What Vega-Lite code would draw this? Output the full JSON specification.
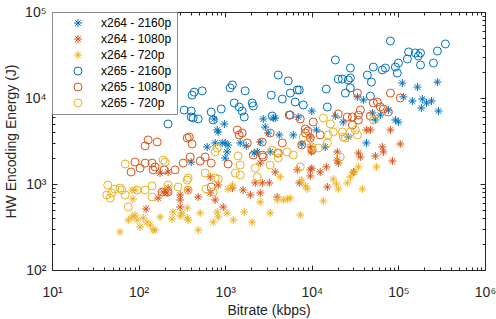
{
"$schema": "https://vega.github.io/schema/vega-lite/v6.json",
"width": 433,
"height": 258,
"autosize": {"type": "none"},
"padding": {"left": 52, "top": 12, "right": 11, "bottom": 49},
"background": "white",
"config": {
  "view": {"stroke": "#262626", "strokeWidth": 1},
  "font": "Liberation Sans",
  "axis": {"grid": false, "domain": false, "tickColor": "#262626", "tickWidth": 1, "labelColor": "#262626", "titleColor": "#262626", "labelFont": "Liberation Sans", "titleFont": "Liberation Sans", "titleFontWeight": "normal", "labelFlush": false, "labelOverlap": false},
  "legend": {"orient": "top-left", "offset": 0, "padding": 5, "strokeColor": "#8c8c8c", "fillColor": "white", "labelFontSize": 12, "labelColor": "#000000", "labelFont": "Liberation Sans", "symbolSize": 64, "symbolStrokeWidth": 1, "rowPadding": 4, "symbolOffset": 15, "labelOffset": 17, "cornerRadius": 0}
},
"datasets": {
"pts": [
{"series":"x264 - 2160p","bitrate":405,"energy":1800},
{"series":"x264 - 2160p","bitrate":619,"energy":2690},
{"series":"x264 - 2160p","bitrate":766,"energy":3000},
{"series":"x264 - 2160p","bitrate":830,"energy":4030},
{"series":"x264 - 2160p","bitrate":923,"energy":3000},
{"series":"x264 - 2160p","bitrate":1000,"energy":3000},
{"series":"x264 - 2160p","bitrate":1080,"energy":2840},
{"series":"x264 - 2160p","bitrate":1050,"energy":2360},
{"series":"x264 - 2160p","bitrate":1000,"energy":2000},
{"series":"x264 - 2160p","bitrate":1490,"energy":3000},
{"series":"x264 - 2160p","bitrate":1750,"energy":2770},
{"series":"x264 - 2160p","bitrate":2160,"energy":2290},
{"series":"x264 - 2160p","bitrate":2340,"energy":2360},
{"series":"x264 - 2160p","bitrate":2540,"energy":3080},
{"series":"x264 - 2160p","bitrate":2750,"energy":5700},
{"series":"x264 - 2160p","bitrate":2900,"energy":4600},
{"series":"x264 - 2160p","bitrate":3140,"energy":3920},
{"series":"x264 - 2160p","bitrate":3310,"energy":2360},
{"series":"x264 - 2160p","bitrate":3590,"energy":5850},
{"series":"x264 - 2160p","bitrate":3780,"energy":5850},
{"series":"x264 - 2160p","bitrate":4210,"energy":3720},
{"series":"x264 - 2160p","bitrate":6110,"energy":3720},
{"series":"x264 - 2160p","bitrate":6980,"energy":6010},
{"series":"x264 - 2160p","bitrate":7660,"energy":2920},
{"series":"x264 - 2160p","bitrate":10000,"energy":7060},
{"series":"x264 - 2160p","bitrate":11300,"energy":4250},
{"series":"x264 - 2160p","bitrate":14300,"energy":2690},
{"series":"x264 - 2160p","bitrate":18700,"energy":6180},
{"series":"x264 - 2160p","bitrate":23100,"energy":5260},
{"series":"x264 - 2160p","bitrate":26400,"energy":3520},
{"series":"x264 - 2160p","bitrate":33600,"energy":10300},
{"series":"x264 - 2160p","bitrate":39400,"energy":9480},
{"series":"x264 - 2160p","bitrate":42700,"energy":3000},
{"series":"x264 - 2160p","bitrate":50100,"energy":6690},
{"series":"x264 - 2160p","bitrate":54200,"energy":5550},
{"series":"x264 - 2160p","bitrate":61900,"energy":6340},
{"series":"x264 - 2160p","bitrate":76600,"energy":7240},
{"series":"x264 - 2160p","bitrate":92300,"energy":5550},
{"series":"x264 - 2160p","bitrate":100000,"energy":5260},
{"series":"x264 - 2160p","bitrate":111000,"energy":14900},
{"series":"x264 - 2160p","bitrate":114000,"energy":10300},
{"series":"x264 - 2160p","bitrate":145000,"energy":9230},
{"series":"x264 - 2160p","bitrate":166000,"energy":13400},
{"series":"x264 - 2160p","bitrate":184000,"energy":7650},
{"series":"x264 - 2160p","bitrate":189000,"energy":9730},
{"series":"x264 - 2160p","bitrate":211000,"energy":8750},
{"series":"x264 - 2160p","bitrate":241000,"energy":9230},
{"series":"x264 - 2160p","bitrate":282000,"energy":15300},
{"series":"x264 - 2160p","bitrate":290000,"energy":7060},
{"series":"x264 - 2160p","bitrate":746,"energy":5700},
{"series":"x264 - 2160p","bitrate":978,"energy":4990},
{"series":"x264 - 2160p","bitrate":809,"energy":4250},
{"series":"x264 - 1080p","bitrate":122,"energy":512},
{"series":"x264 - 1080p","bitrate":177,"energy":1340},
{"series":"x264 - 1080p","bitrate":192,"energy":807},
{"series":"x264 - 1080p","bitrate":168,"energy":687},
{"series":"x264 - 1080p","bitrate":219,"energy":898},
{"series":"x264 - 1080p","bitrate":219,"energy":1380},
{"series":"x264 - 1080p","bitrate":213,"energy":786},
{"series":"x264 - 1080p","bitrate":302,"energy":745},
{"series":"x264 - 1080p","bitrate":302,"energy":652},
{"series":"x264 - 1080p","bitrate":302,"energy":540},
{"series":"x264 - 1080p","bitrate":373,"energy":851},
{"series":"x264 - 1080p","bitrate":488,"energy":706},
{"series":"x264 - 1080p","bitrate":671,"energy":786},
{"series":"x264 - 1080p","bitrate":671,"energy":1210},
{"series":"x264 - 1080p","bitrate":766,"energy":652},
{"series":"x264 - 1080p","bitrate":830,"energy":973},
{"series":"x264 - 1080p","bitrate":948,"energy":540},
{"series":"x264 - 1080p","bitrate":1210,"energy":898},
{"series":"x264 - 1080p","bitrate":1610,"energy":851},
{"series":"x264 - 1080p","bitrate":1950,"energy":745},
{"series":"x264 - 1080p","bitrate":2220,"energy":1030},
{"series":"x264 - 1080p","bitrate":2540,"energy":786},
{"series":"x264 - 1080p","bitrate":2540,"energy":1750},
{"series":"x264 - 1080p","bitrate":2680,"energy":1030},
{"series":"x264 - 1080p","bitrate":3230,"energy":1030},
{"series":"x264 - 1080p","bitrate":3780,"energy":1380},
{"series":"x264 - 1080p","bitrate":3990,"energy":706},
{"series":"x264 - 1080p","bitrate":6800,"energy":1460},
{"series":"x264 - 1080p","bitrate":7170,"energy":1030},
{"series":"x264 - 1080p","bitrate":9610,"energy":1460},
{"series":"x264 - 1080p","bitrate":10000,"energy":1530},
{"series":"x264 - 1080p","bitrate":9610,"energy":1240},
{"series":"x264 - 1080p","bitrate":12500,"energy":1380},
{"series":"x264 - 1080p","bitrate":14700,"energy":1580},
{"series":"x264 - 1080p","bitrate":15100,"energy":923},
{"series":"x264 - 1080p","bitrate":19700,"energy":2360},
{"series":"x264 - 1080p","bitrate":19700,"energy":1900},
{"series":"x264 - 1080p","bitrate":20200,"energy":1750},
{"series":"x264 - 1080p","bitrate":9610,"energy":3520},
{"series":"x264 - 1080p","bitrate":9610,"energy":2690},
{"series":"x264 - 1080p","bitrate":9870,"energy":2360},
{"series":"x264 - 1080p","bitrate":30200,"energy":1380},
{"series":"x264 - 1080p","bitrate":34500,"energy":2290},
{"series":"x264 - 1080p","bitrate":36400,"energy":2060},
{"series":"x264 - 1080p","bitrate":42700,"energy":4250},
{"series":"x264 - 1080p","bitrate":47500,"energy":4250},
{"series":"x264 - 1080p","bitrate":54200,"energy":2120},
{"series":"x264 - 1080p","bitrate":65300,"energy":2690},
{"series":"x264 - 1080p","bitrate":67100,"energy":2360},
{"series":"x264 - 1080p","bitrate":80900,"energy":4250},
{"series":"x264 - 1080p","bitrate":85300,"energy":1850},
{"series":"x264 - 1080p","bitrate":105000,"energy":2920},
{"series":"x264 - 720p","bitrate":61,"energy":277},
{"series":"x264 - 720p","bitrate":76,"energy":381},
{"series":"x264 - 720p","bitrate":84,"energy":413},
{"series":"x264 - 720p","bitrate":91,"energy":436},
{"series":"x264 - 720p","bitrate":96,"energy":381},
{"series":"x264 - 720p","bitrate":104,"energy":316},
{"series":"x264 - 720p","bitrate":113,"energy":403},
{"series":"x264 - 720p","bitrate":125,"energy":361},
{"series":"x264 - 720p","bitrate":136,"energy":334},
{"series":"x264 - 720p","bitrate":147,"energy":292},
{"series":"x264 - 720p","bitrate":86,"energy":669},
{"series":"x264 - 720p","bitrate":84,"energy":851},
{"series":"x264 - 720p","bitrate":91,"energy":851},
{"series":"x264 - 720p","bitrate":177,"energy":413},
{"series":"x264 - 720p","bitrate":250,"energy":472},
{"series":"x264 - 720p","bitrate":244,"energy":392},
{"series":"x264 - 720p","bitrate":302,"energy":425},
{"series":"x264 - 720p","bitrate":316,"energy":460},
{"series":"x264 - 720p","bitrate":364,"energy":403},
{"series":"x264 - 720p","bitrate":373,"energy":381},
{"series":"x264 - 720p","bitrate":364,"energy":526},
{"series":"x264 - 720p","bitrate":488,"energy":292},
{"series":"x264 - 720p","bitrate":514,"energy":460},
{"series":"x264 - 720p","bitrate":726,"energy":361},
{"series":"x264 - 720p","bitrate":809,"energy":472},
{"series":"x264 - 720p","bitrate":830,"energy":413},
{"series":"x264 - 720p","bitrate":1050,"energy":460},
{"series":"x264 - 720p","bitrate":1240,"energy":381},
{"series":"x264 - 720p","bitrate":1210,"energy":973},
{"series":"x264 - 720p","bitrate":1080,"energy":875},
{"series":"x264 - 720p","bitrate":1660,"energy":472},
{"series":"x264 - 720p","bitrate":2050,"energy":361},
{"series":"x264 - 720p","bitrate":2540,"energy":618},
{"series":"x264 - 720p","bitrate":3310,"energy":460},
{"series":"x264 - 720p","bitrate":3990,"energy":652},
{"series":"x264 - 720p","bitrate":4690,"energy":652},
{"series":"x264 - 720p","bitrate":5210,"energy":669},
{"series":"x264 - 720p","bitrate":5640,"energy":687},
{"series":"x264 - 720p","bitrate":4320,"energy":1210},
{"series":"x264 - 720p","bitrate":7360,"energy":436},
{"series":"x264 - 720p","bitrate":7660,"energy":1110},
{"series":"x264 - 720p","bitrate":8410,"energy":948},
{"series":"x264 - 720p","bitrate":8870,"energy":875},
{"series":"x264 - 720p","bitrate":13600,"energy":634},
{"series":"x264 - 720p","bitrate":17700,"energy":1140},
{"series":"x264 - 720p","bitrate":19200,"energy":1000},
{"series":"x264 - 720p","bitrate":20200,"energy":875},
{"series":"x264 - 720p","bitrate":25700,"energy":1030},
{"series":"x264 - 720p","bitrate":27900,"energy":1210},
{"series":"x264 - 720p","bitrate":31000,"energy":1380},
{"series":"x264 - 720p","bitrate":34500,"energy":1580},
{"series":"x264 - 720p","bitrate":38400,"energy":875},
{"series":"x264 - 720p","bitrate":55700,"energy":1580},
{"series":"x264 - 720p","bitrate":155,"energy":292},
{"series":"x265 - 2160p","bitrate":219,"energy":4990},
{"series":"x265 - 2160p","bitrate":336,"energy":7240},
{"series":"x265 - 2160p","bitrate":405,"energy":7060},
{"series":"x265 - 2160p","bitrate":405,"energy":6010},
{"series":"x265 - 2160p","bitrate":427,"energy":5850},
{"series":"x265 - 2160p","bitrate":488,"energy":5700},
{"series":"x265 - 2160p","bitrate":415,"energy":10800},
{"series":"x265 - 2160p","bitrate":438,"energy":11700},
{"series":"x265 - 2160p","bitrate":542,"energy":12100},
{"series":"x265 - 2160p","bitrate":689,"energy":6870},
{"series":"x265 - 2160p","bitrate":726,"energy":5550},
{"series":"x265 - 2160p","bitrate":900,"energy":7450},
{"series":"x265 - 2160p","bitrate":1140,"energy":13100},
{"series":"x265 - 2160p","bitrate":1210,"energy":14200},
{"series":"x265 - 2160p","bitrate":1700,"energy":12100},
{"series":"x265 - 2160p","bitrate":1270,"energy":8750},
{"series":"x265 - 2160p","bitrate":1450,"energy":7860},
{"series":"x265 - 2160p","bitrate":1570,"energy":7060},
{"series":"x265 - 2160p","bitrate":1660,"energy":6010},
{"series":"x265 - 2160p","bitrate":2050,"energy":8750},
{"series":"x265 - 2160p","bitrate":2110,"energy":8070},
{"series":"x265 - 2160p","bitrate":3400,"energy":10800},
{"series":"x265 - 2160p","bitrate":3490,"energy":6180},
{"series":"x265 - 2160p","bitrate":4100,"energy":18500},
{"series":"x265 - 2160p","bitrate":4560,"energy":9730},
{"series":"x265 - 2160p","bitrate":5350,"energy":15800},
{"series":"x265 - 2160p","bitrate":5640,"energy":11400},
{"series":"x265 - 2160p","bitrate":6440,"energy":8980},
{"series":"x265 - 2160p","bitrate":6800,"energy":12400},
{"series":"x265 - 2160p","bitrate":7170,"energy":12400},
{"series":"x265 - 2160p","bitrate":7980,"energy":8300},
{"series":"x265 - 2160p","bitrate":5500,"energy":6340},
{"series":"x265 - 2160p","bitrate":14700,"energy":12700},
{"series":"x265 - 2160p","bitrate":15100,"energy":7860},
{"series":"x265 - 2160p","bitrate":18700,"energy":27700},
{"series":"x265 - 2160p","bitrate":20200,"energy":16600},
{"series":"x265 - 2160p","bitrate":22500,"energy":16600},
{"series":"x265 - 2160p","bitrate":26400,"energy":16200},
{"series":"x265 - 2160p","bitrate":27900,"energy":22300},
{"series":"x265 - 2160p","bitrate":27900,"energy":17100},
{"series":"x265 - 2160p","bitrate":27900,"energy":13100},
{"series":"x265 - 2160p","bitrate":24400,"energy":11400},
{"series":"x265 - 2160p","bitrate":43800,"energy":18500},
{"series":"x265 - 2160p","bitrate":48800,"energy":15300},
{"series":"x265 - 2160p","bitrate":51400,"energy":22900},
{"series":"x265 - 2160p","bitrate":65300,"energy":21200},
{"series":"x265 - 2160p","bitrate":70800,"energy":22300},
{"series":"x265 - 2160p","bitrate":80900,"energy":46000},
{"series":"x265 - 2160p","bitrate":92300,"energy":22900},
{"series":"x265 - 2160p","bitrate":100000,"energy":25500},
{"series":"x265 - 2160p","bitrate":97000,"energy":19500},
{"series":"x265 - 2160p","bitrate":127000,"energy":28400},
{"series":"x265 - 2160p","bitrate":131000,"energy":34300},
{"series":"x265 - 2160p","bitrate":157000,"energy":33400},
{"series":"x265 - 2160p","bitrate":180000,"energy":33400},
{"series":"x265 - 2160p","bitrate":170000,"energy":30800},
{"series":"x265 - 2160p","bitrate":180000,"energy":24200},
{"series":"x265 - 2160p","bitrate":254000,"energy":25500},
{"series":"x265 - 2160p","bitrate":282000,"energy":35200},
{"series":"x265 - 2160p","bitrate":349000,"energy":42500},
{"series":"x265 - 2160p","bitrate":47500,"energy":10500},
{"series":"x265 - 1080p","bitrate":119,"energy":2770},
{"series":"x265 - 1080p","bitrate":129,"energy":3250},
{"series":"x265 - 1080p","bitrate":164,"energy":3080},
{"series":"x265 - 1080p","bitrate":82,"energy":1380},
{"series":"x265 - 1080p","bitrate":91,"energy":1800},
{"series":"x265 - 1080p","bitrate":104,"energy":1530},
{"series":"x265 - 1080p","bitrate":119,"energy":1750},
{"series":"x265 - 1080p","bitrate":143,"energy":1750},
{"series":"x265 - 1080p","bitrate":147,"energy":1460},
{"series":"x265 - 1080p","bitrate":197,"energy":1460},
{"series":"x265 - 1080p","bitrate":155,"energy":1580},
{"series":"x265 - 1080p","bitrate":219,"energy":807},
{"series":"x265 - 1080p","bitrate":187,"energy":807},
{"series":"x265 - 1080p","bitrate":264,"energy":1460},
{"series":"x265 - 1080p","bitrate":327,"energy":1750},
{"series":"x265 - 1080p","bitrate":364,"energy":3430},
{"series":"x265 - 1080p","bitrate":384,"energy":3520},
{"series":"x265 - 1080p","bitrate":415,"energy":2920},
{"series":"x265 - 1080p","bitrate":394,"energy":2060},
{"series":"x265 - 1080p","bitrate":514,"energy":1850},
{"series":"x265 - 1080p","bitrate":587,"energy":2060},
{"series":"x265 - 1080p","bitrate":689,"energy":1750},
{"series":"x265 - 1080p","bitrate":689,"energy":923},
{"series":"x265 - 1080p","bitrate":1080,"energy":1710},
{"series":"x265 - 1080p","bitrate":1380,"energy":4250},
{"series":"x265 - 1080p","bitrate":1570,"energy":3920},
{"series":"x265 - 1080p","bitrate":1800,"energy":3000},
{"series":"x265 - 1080p","bitrate":1450,"energy":3720},
{"series":"x265 - 1080p","bitrate":2110,"energy":2170},
{"series":"x265 - 1080p","bitrate":2680,"energy":2170},
{"series":"x265 - 1080p","bitrate":2680,"energy":3080},
{"series":"x265 - 1080p","bitrate":2750,"energy":2060},
{"series":"x265 - 1080p","bitrate":3310,"energy":3920},
{"series":"x265 - 1080p","bitrate":4100,"energy":2290},
{"series":"x265 - 1080p","bitrate":4560,"energy":3000},
{"series":"x265 - 1080p","bitrate":5640,"energy":6340},
{"series":"x265 - 1080p","bitrate":7360,"energy":5700},
{"series":"x265 - 1080p","bitrate":8410,"energy":3920},
{"series":"x265 - 1080p","bitrate":9610,"energy":3430},
{"series":"x265 - 1080p","bitrate":10400,"energy":5260},
{"series":"x265 - 1080p","bitrate":8410,"energy":4360},
{"series":"x265 - 1080p","bitrate":9000,"energy":4130},
{"series":"x265 - 1080p","bitrate":12500,"energy":3720},
{"series":"x265 - 1080p","bitrate":7660,"energy":2840},
{"series":"x265 - 1080p","bitrate":10100,"energy":2480},
{"series":"x265 - 1080p","bitrate":20200,"energy":6520},
{"series":"x265 - 1080p","bitrate":25700,"energy":6010},
{"series":"x265 - 1080p","bitrate":29400,"energy":6010},
{"series":"x265 - 1080p","bitrate":33600,"energy":11400},
{"series":"x265 - 1080p","bitrate":34500,"energy":6340},
{"series":"x265 - 1080p","bitrate":36400,"energy":7240},
{"series":"x265 - 1080p","bitrate":29400,"energy":4850},
{"series":"x265 - 1080p","bitrate":51400,"energy":8750},
{"series":"x265 - 1080p","bitrate":57100,"energy":8980},
{"series":"x265 - 1080p","bitrate":61900,"energy":7860},
{"series":"x265 - 1080p","bitrate":67100,"energy":7450},
{"series":"x265 - 1080p","bitrate":76600,"energy":6870},
{"series":"x265 - 1080p","bitrate":80900,"energy":11400},
{"series":"x265 - 1080p","bitrate":105000,"energy":10000},
{"series":"x265 - 1080p","bitrate":47500,"energy":6180},
{"series":"x265 - 1080p","bitrate":34500,"energy":5550},
{"series":"x265 - 720p","bitrate":44,"energy":973},
{"series":"x265 - 720p","bitrate":43,"energy":745},
{"series":"x265 - 720p","bitrate":47,"energy":687},
{"series":"x265 - 720p","bitrate":49,"energy":786},
{"series":"x265 - 720p","bitrate":53,"energy":875},
{"series":"x265 - 720p","bitrate":61,"energy":898},
{"series":"x265 - 720p","bitrate":64,"energy":851},
{"series":"x265 - 720p","bitrate":70,"energy":745},
{"series":"x265 - 720p","bitrate":70,"energy":1710},
{"series":"x265 - 720p","bitrate":76,"energy":540},
{"series":"x265 - 720p","bitrate":96,"energy":851},
{"series":"x265 - 720p","bitrate":119,"energy":851},
{"series":"x265 - 720p","bitrate":143,"energy":706},
{"series":"x265 - 720p","bitrate":143,"energy":948},
{"series":"x265 - 720p","bitrate":202,"energy":1800},
{"series":"x265 - 720p","bitrate":219,"energy":973},
{"series":"x265 - 720p","bitrate":286,"energy":923},
{"series":"x265 - 720p","bitrate":373,"energy":1170},
{"series":"x265 - 720p","bitrate":192,"energy":1900},
{"series":"x265 - 720p","bitrate":364,"energy":1110},
{"series":"x265 - 720p","bitrate":373,"energy":851},
{"series":"x265 - 720p","bitrate":587,"energy":1340},
{"series":"x265 - 720p","bitrate":766,"energy":2360},
{"series":"x265 - 720p","bitrate":809,"energy":2620},
{"series":"x265 - 720p","bitrate":1410,"energy":2120},
{"series":"x265 - 720p","bitrate":1490,"energy":1660},
{"series":"x265 - 720p","bitrate":1310,"energy":1340},
{"series":"x265 - 720p","bitrate":1490,"energy":1270},
{"series":"x265 - 720p","bitrate":766,"energy":1170},
{"series":"x265 - 720p","bitrate":830,"energy":1140},
{"series":"x265 - 720p","bitrate":603,"energy":875},
{"series":"x265 - 720p","bitrate":726,"energy":807},
{"series":"x265 - 720p","bitrate":2220,"energy":1530},
{"series":"x265 - 720p","bitrate":2340,"energy":1210},
{"series":"x265 - 720p","bitrate":3310,"energy":1660},
{"series":"x265 - 720p","bitrate":3490,"energy":2480},
{"series":"x265 - 720p","bitrate":3990,"energy":2290},
{"series":"x265 - 720p","bitrate":4100,"energy":2000},
{"series":"x265 - 720p","bitrate":5210,"energy":2360},
{"series":"x265 - 720p","bitrate":6110,"energy":2170},
{"series":"x265 - 720p","bitrate":7360,"energy":1580},
{"series":"x265 - 720p","bitrate":7980,"energy":3520},
{"series":"x265 - 720p","bitrate":10000,"energy":2690},
{"series":"x265 - 720p","bitrate":11900,"energy":2620},
{"series":"x265 - 720p","bitrate":13600,"energy":5850},
{"series":"x265 - 720p","bitrate":15100,"energy":3000},
{"series":"x265 - 720p","bitrate":15500,"energy":3720},
{"series":"x265 - 720p","bitrate":16400,"energy":4990},
{"series":"x265 - 720p","bitrate":17700,"energy":4030},
{"series":"x265 - 720p","bitrate":22500,"energy":4030},
{"series":"x265 - 720p","bitrate":23100,"energy":3520},
{"series":"x265 - 720p","bitrate":21300,"energy":2060},
{"series":"x265 - 720p","bitrate":27900,"energy":4030},
{"series":"x265 - 720p","bitrate":33600,"energy":3720},
{"series":"x265 - 720p","bitrate":31800,"energy":4250},
{"series":"x265 - 720p","bitrate":51400,"energy":5550},
{"series":"x265 - 720p","bitrate":24400,"energy":3430}
]
},
"data": {"name": "pts"},
"layer": [
  {
    "mark": {"type": "point", "opacity": 0},
    "encoding": {
      "x": {"field": "bitrate", "type": "quantitative", "scale": {"type": "log", "domain": [10, 1000000], "nice": false},
        "axis": {"orient": "bottom", "values": [20,30,40,50,60,70,80,90,200,300,400,500,600,700,800,900,2000,3000,4000,5000,6000,7000,8000,9000,20000,30000,40000,50000,60000,70000,80000,90000,200000,300000,400000,500000,600000,700000,800000,900000], "tickSize": -3, "labels": false, "title": null}},
      "y": {"field": "energy", "type": "quantitative", "scale": {"type": "log", "domain": [100, 100000], "nice": false},
        "axis": {"orient": "left", "values": [200,300,400,500,600,700,800,900,2000,3000,4000,5000,6000,7000,8000,9000,20000,30000,40000,50000,60000,70000,80000,90000], "tickSize": -3, "labels": false, "title": null}}
    }
  },
  {
    "mark": {"type": "point", "opacity": 0},
    "encoding": {
      "x": {"field": "bitrate", "type": "quantitative", "axis": {"orient": "top", "values": [10,100,1000,10000,100000,1000000], "tickSize": -5, "labels": false, "title": null}},
      "y": {"field": "energy", "type": "quantitative", "axis": {"orient": "right", "values": [100,1000,10000,100000], "tickSize": -5, "labels": false, "title": null}}
    }
  },
  {
    "mark": {"type": "point", "opacity": 0},
    "encoding": {
      "x": {"field": "bitrate", "type": "quantitative", "axis": {"orient": "top", "values": [20,30,40,50,60,70,80,90,200,300,400,500,600,700,800,900,2000,3000,4000,5000,6000,7000,8000,9000,20000,30000,40000,50000,60000,70000,80000,90000,200000,300000,400000,500000,600000,700000,800000,900000], "tickSize": -3, "labels": false, "title": null}},
      "y": {"field": "energy", "type": "quantitative", "axis": {"orient": "right", "values": [200,300,400,500,600,700,800,900,2000,3000,4000,5000,6000,7000,8000,9000,20000,30000,40000,50000,60000,70000,80000,90000], "tickSize": -3, "labels": false, "title": null}}
    }
  },
  {
    "mark": {"type": "point", "filled": false, "size": 64, "strokeWidth": 1, "opacity": 1},
    "encoding": {
      "x": {"field": "bitrate", "type": "quantitative",
        "axis": {"orient": "bottom", "values": [10,100,1000,10000,100000,1000000], "tickSize": -5, "labelPadding": 20, "labelFontSize": 14,
          "labelExpr": "'10' + ['⁰','¹','²','³','⁴','⁵','⁶'][round(log(datum.value)/LN10)]",
          "title": "Bitrate (kbps)", "titleFontSize": 14, "titleY": 44, "titleBaseline": "alphabetic"}},
      "y": {"field": "energy", "type": "quantitative",
        "axis": {"orient": "left", "values": [100,1000,10000,100000], "tickSize": -5, "labelPadding": 11, "labelFontSize": 14,
          "labelExpr": "'10' + ['⁰','¹','²','³','⁴','⁵','⁶'][round(log(datum.value)/LN10)]",
          "title": "HW Encoding Energy (J)", "titleFontSize": 14, "titleX": -37, "titleY": 129, "titleAngle": -90, "titleBaseline": "alphabetic", "titleAlign": "center"}},
      "color": {"field": "series", "type": "nominal",
        "scale": {"domain": ["x264 - 2160p","x264 - 1080p","x264 - 720p","x265 - 2160p","x265 - 1080p","x265 - 720p"],
                  "range": ["#0072BD","#D95319","#EDB120","#0072BD","#D95319","#EDB120"]},
        "legend": {"title": null}},
      "shape": {"field": "series", "type": "nominal",
        "scale": {"domain": ["x264 - 2160p","x264 - 1080p","x264 - 720p","x265 - 2160p","x265 - 1080p","x265 - 720p"],
                  "range": ["M-1,0H1M0,-1V1M-0.7,-0.7L0.7,0.7M-0.7,0.7L0.7,-0.7","M-1,0H1M0,-1V1M-0.7,-0.7L0.7,0.7M-0.7,0.7L0.7,-0.7","M-1,0H1M0,-1V1M-0.7,-0.7L0.7,0.7M-0.7,0.7L0.7,-0.7","circle","circle","circle"]},
        "legend": {"title": null}}
    }
  }
],
"resolve": {"axis": {"x": "independent", "y": "independent"}}
}
